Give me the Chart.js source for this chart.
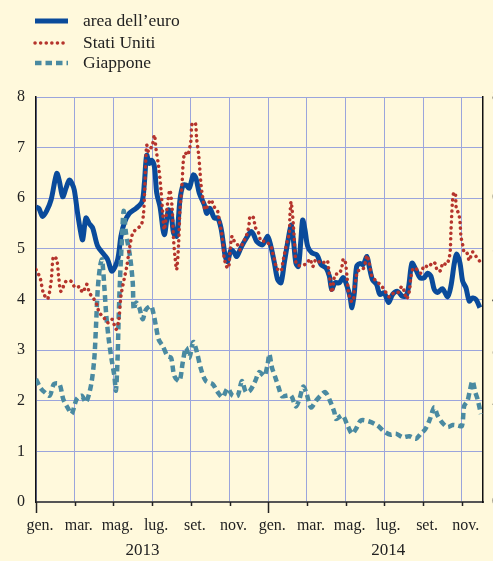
<!DOCTYPE html>
<html lang="it">
<head>
  <meta charset="UTF-8" />
  <title>Volatilità – area dell'euro, Stati Uniti, Giappone</title>
  <script src="https://cdn.jsdelivr.net/npm/chart.js"></script>
  <style>
    body {
      margin: 0;
      background: #fff9dc;
    }
    canvas {
      display: block;
      background: #fff9dc;
    }
  </style>
</head>
<body>
  <canvas id="volChart" width="493" height="561"></canvas>

  <script>
    // months since gen. 2013 on the x axis
    const monthLabels = ['gen.', 'mar.', 'mag.', 'lug.', 'set.', 'nov.',
                         'gen.', 'mar.', 'mag.', 'lug.', 'set.', 'nov.'];
    const years = ['2013', '2014'];
    const yTicks = [0, 1, 2, 3, 4, 5, 6, 7, 8];

    const euroMonths = [0, 0.15, 0.34, 0.55, 0.78, 1.07, 1.2, 1.38, 1.55, 1.72, 1.85, 1.98, 2.15, 2.3, 2.41, 2.58, 2.75, 2.93,
      3.19, 3.53, 3.7, 3.93, 4.22, 4.39, 4.56, 4.82, 5.17, 5.48, 5.6, 5.72, 5.86, 5.98, 6.12, 6.24, 6.41, 6.63, 6.84,
      6.98, 7.11, 7.27, 7.44, 7.6, 7.75, 7.92, 8.13, 8.27, 8.44, 8.7, 8.82, 8.99, 9.21, 9.39, 9.56, 9.68, 9.78, 9.9,
      10.08, 10.25, 10.37, 10.59, 10.82, 11.11, 11.25, 11.4, 11.71, 11.97, 12.14, 12.32, 12.49, 12.66, 12.83, 13.0,
      13.18, 13.3, 13.43, 13.56, 13.69, 13.78, 13.9, 14.04, 14.26, 14.52, 14.73, 14.99, 15.16, 15.28, 15.45, 15.67,
      15.88, 16.1, 16.22, 16.33, 16.45, 16.57, 16.74, 16.91, 17.1, 17.22, 17.39, 17.6, 17.77, 17.99, 18.22, 18.43,
      18.69, 18.91, 19.12, 19.26, 19.43, 19.63, 19.84, 20.06, 20.24, 20.41, 20.58, 20.75, 21.01, 21.27, 21.44, 21.62,
      21.74, 21.91, 22.05, 22.22, 22.39, 22.56, 22.74, 22.94];
    const euroValues = [5.83, 5.8, 5.64, 5.75, 5.97, 6.49, 6.35, 6.03, 6.2, 6.36, 6.3, 6.16, 5.7, 5.35, 5.18, 5.61, 5.5, 5.41,
      5.05, 4.88, 4.79, 4.56, 4.79, 5.25, 5.51, 5.7, 5.8, 5.93, 6.3, 6.85, 6.69, 6.75, 6.62, 6.1, 5.83, 5.28, 5.77,
      5.7, 5.31, 5.25, 5.97, 6.26, 6.26, 6.2, 6.46, 6.39, 6.1, 5.87, 5.7, 5.8, 5.61, 5.61, 5.41, 5.11, 4.85, 4.75,
      4.98, 4.92, 4.85, 5.02, 5.18, 5.34, 5.28, 5.15, 5.08, 5.25, 5.05, 4.72, 4.39, 4.33, 4.72, 5.11,
      5.47, 5.18, 4.72, 4.65, 5.18, 5.57, 5.38, 5.05, 4.92, 4.88, 4.69, 4.62, 4.46, 4.2, 4.33, 4.33,
      4.43, 4.23, 4.07, 3.84, 4.13, 4.65, 4.71, 4.69, 4.85, 4.65, 4.39, 4.3, 4.1, 4.13, 3.94, 4.1,
      4.16, 4.07, 4.07, 4.26, 4.72, 4.59, 4.43, 4.43, 4.52, 4.46, 4.2, 4.14, 4.21, 4.05, 4.26, 4.72,
      4.9, 4.72, 4.36, 4.23, 3.97, 4.03, 4.0, 3.84];

    const usaMonths = [0, 0.21, 0.38, 0.6, 0.78, 0.9, 1.07, 1.17, 1.29, 1.55, 1.81, 2.03, 2.24, 2.41, 2.62, 2.76, 2.96,
      3.14, 3.27, 3.48, 3.7, 3.93, 4.13, 4.27, 4.39, 4.56, 4.69, 4.82, 5.0, 5.25, 5.43, 5.55, 5.62, 5.72, 5.82, 6.03,
      6.12, 6.2, 6.34, 6.46, 6.55, 6.63, 6.8, 6.92, 7.03, 7.11, 7.18, 7.27, 7.37, 7.44, 7.55, 7.61, 7.7, 7.84, 8.01,
      8.06, 8.23, 8.3, 8.4, 8.47, 8.53, 8.61, 8.75, 8.92, 9.04, 9.21, 9.39, 9.47, 9.61, 9.68, 9.73, 9.85, 9.95, 10.02,
      10.13, 10.25, 10.42, 10.54, 10.68, 10.82, 10.94, 11.02, 11.07, 11.25, 11.32, 11.51, 11.63, 11.85, 12.14, 12.23,
      12.32, 12.44, 12.66, 12.75, 12.83, 13.0, 13.09, 13.12, 13.18, 13.23, 13.3, 13.35, 13.4, 13.47, 13.69, 13.99,
      14.16, 14.3, 14.47, 14.76, 15.04, 15.12, 15.21, 15.3, 15.45, 15.67, 15.81, 15.88, 15.98, 16.07, 16.15, 16.28,
      16.4, 16.45, 16.53, 16.62, 16.88, 17.02, 17.1, 17.22, 17.36, 17.6, 17.83, 18.05, 18.26, 18.46, 18.69, 18.91,
      19.03, 19.15, 19.29, 19.38, 19.5, 19.67, 19.89, 20.06, 20.29, 20.5, 20.63, 20.75, 20.93, 21.01, 21.22, 21.36,
      21.41, 21.44, 21.48, 21.52, 21.58, 21.67, 21.72, 21.84, 21.91, 21.96, 22.05, 22.13, 22.27, 22.39, 22.56, 22.74,
      22.94];
    const usaValues = [4.59, 4.43, 4.13, 4.01, 4.36, 4.85, 4.79, 4.46, 4.16, 4.36, 4.36, 4.23, 4.25, 4.14, 4.3, 4.13, 4.03,
      3.9, 3.74, 3.66, 3.54, 3.61, 3.41, 3.57, 4.07, 4.41, 4.65, 4.98, 5.31, 5.41, 5.46, 5.67, 6.2, 7.05, 6.92, 7.08,
      7.25, 6.98, 6.62, 6.16, 5.7, 5.38, 5.9, 6.16, 5.83, 5.18, 4.85, 4.59, 5.11, 5.77, 6.3, 6.72, 6.9, 6.85, 7.15,
      7.46, 7.49, 7.18, 6.88, 6.56, 6.26, 6.03, 5.77, 5.9, 5.97, 5.83, 5.74, 5.57, 5.28, 5.05, 4.82, 4.65, 4.62, 4.92,
      5.25, 5.15, 5.08, 4.98, 5.11, 5.21, 5.34, 5.51, 5.65, 5.61, 5.44, 5.31, 5.15, 5.15, 5.05, 4.92,
      4.79, 4.62, 4.56, 4.72, 4.88, 5.18, 5.31, 5.64, 5.93, 5.8, 5.47, 5.18, 4.85, 4.69, 4.67, 4.71,
      4.8, 4.65, 4.79, 4.71, 4.77, 4.62, 4.33, 4.14, 4.49, 4.51, 4.65, 4.8, 4.75, 4.46, 4.14, 3.97,
      3.97, 4.23, 4.39, 4.56, 4.59, 4.73, 4.87, 4.72, 4.46, 4.36, 4.28, 4.16, 4.05, 4.12, 4.13, 4.26,
      4.16, 4.01, 4.16, 4.46, 4.62, 4.6, 4.52, 4.67, 4.64, 4.74, 4.71, 4.56, 4.58, 4.72, 4.69, 4.84,
      4.98, 5.31, 5.64, 5.93, 6.1, 6.11, 5.8, 5.7, 5.54, 5.25, 5.08, 4.93, 4.92, 4.77, 4.94, 4.85,
      4.75];

    const japanMonths = [0, 0.22, 0.47, 0.71, 0.93, 1.21, 1.41, 1.67, 1.84, 2.1, 2.36, 2.58, 2.84, 3.01, 3.1, 3.19,
      3.31, 3.41, 3.53, 3.62, 3.76, 3.93, 4.05, 4.13, 4.22, 4.27, 4.34, 4.44, 4.53, 4.65, 4.86, 5.0, 5.05, 5.17, 5.34,
      5.51, 5.68, 5.94, 6.06, 6.2, 6.34, 6.55, 6.8, 6.98, 7.15, 7.41, 7.58, 7.75, 7.92, 8.13, 8.3, 8.53, 8.78, 9.13,
      9.39, 9.64, 9.9, 10.16, 10.42, 10.64, 10.85, 11.06, 11.33, 11.54, 11.8, 11.97, 12.06, 12.19, 12.37, 12.54,
      12.71, 12.92, 13.18, 13.43, 13.61, 13.81, 13.99, 14.21, 14.47, 14.73, 14.95, 15.19, 15.42, 15.5, 15.84, 16.1,
      16.33, 16.53, 16.79, 17.22, 17.65, 18.0, 18.34, 18.6, 18.95, 19.29, 19.63, 19.89, 20.12, 20.36, 20.58, 20.75,
      21.01, 21.27, 21.53, 21.79, 22.01, 22.13, 22.3, 22.43, 22.56, 22.7, 22.82, 22.99];
    const japanValues = [2.43, 2.26, 2.16, 2.1, 2.33, 2.33, 2.03, 1.84, 1.74, 2.03, 2.1, 1.97, 2.3, 2.82, 3.47, 4.2,
      4.65, 4.79, 4.26, 3.74, 3.21, 2.76, 2.49, 2.2, 2.88, 3.61, 4.39, 5.18, 5.75, 5.31, 4.85, 4.33, 3.8, 3.94, 3.84,
      3.61, 3.8, 3.87, 3.74, 3.47, 3.21, 3.08, 2.88, 2.85, 2.49, 2.39, 2.75, 3.05, 2.85, 3.16, 2.98, 2.62, 2.39, 2.33,
      2.17, 2.07, 2.24, 2.1, 2.1, 2.39, 2.17, 2.2, 2.39, 2.57, 2.49, 2.72, 2.92, 2.66, 2.46, 2.26,
      2.09, 2.1, 2.1, 1.89, 2.03, 2.28, 2.13, 1.87, 2.0, 2.11, 2.17, 2.0, 1.77, 1.64, 1.71, 1.51,
      1.35, 1.44, 1.61, 1.59, 1.51, 1.39, 1.33, 1.35, 1.28, 1.3, 1.25, 1.35, 1.44, 1.64, 1.87, 1.71,
      1.56, 1.48, 1.52, 1.51, 1.5, 1.9, 2.0, 2.22, 2.39, 2.17, 2.03, 1.74];

    const toPoints = (xs, ys) => xs.map((x, i) => ({ x: x, y: ys[i] }));

    const serif = "'Liberation Serif', 'DejaVu Serif', serif";
    const gridColor = '#9ba5dc';

    // legend, tick marks under the x axis and the year labels
    const extrasPlugin = {
      id: 'extras',
      afterDraw: chart => {
        const ctx = chart.ctx;
        const x = chart.scales.x;
        const area = chart.chartArea;
        ctx.save();

        // tick marks
        ctx.strokeStyle = '#222';
        ctx.lineWidth = 1.5;
        x.ticks.forEach(t => {
          const px = Math.round(x.getPixelForValue(t.value)) + 0.5;
          const len = (t.value % 12 === 0) ? 11 : 4;
          ctx.beginPath();
          ctx.moveTo(px, area.bottom);
          ctx.lineTo(px, area.bottom + len);
          ctx.stroke();
        });

        // years
        ctx.fillStyle = '#222';
        ctx.font = '17px ' + serif;
        ctx.textAlign = 'center';
        ctx.textBaseline = 'middle';
        ctx.fillText(years[0], x.getPixelForValue(5.5), 551);
        ctx.fillText(years[1], x.getPixelForValue(18.2), 551);

        // legend
        const items = [
          { label: "area dell\u2019euro", ds: chart.data.datasets[0], y: 21 },
          { label: 'Stati Uniti', ds: chart.data.datasets[1], y: 43 },
          { label: 'Giappone', ds: chart.data.datasets[2], y: 63 }
        ];
        ctx.font = '17.5px ' + serif;
        ctx.textAlign = 'left';
        items.forEach(it => {
          ctx.strokeStyle = it.ds.borderColor;
          ctx.lineWidth = it.ds.borderWidth;
          ctx.lineCap = it.ds.borderCapStyle || 'butt';
          ctx.setLineDash(it.ds.borderDash || []);
          ctx.beginPath();
          ctx.moveTo(35, it.y);
          ctx.lineTo(68, it.y);
          ctx.stroke();
          ctx.setLineDash([]);
          ctx.fillStyle = '#222';
          ctx.fillText(it.label, 83, it.y);
        });
        ctx.restore();
      }
    };

    const ctx = document.getElementById('volChart').getContext('2d');

    new Chart(ctx, {
      type: 'line',
      data: {
        datasets: [
          {
            label: "area dell'euro",
            data: toPoints(euroMonths, euroValues),
            borderColor: '#0a4b9b',
            borderWidth: 5,
            pointRadius: 0,
            tension: 0.3,
            order: 2
          },
          {
            label: 'Stati Uniti',
            data: toPoints(usaMonths, usaValues),
            borderColor: '#b5342c',
            borderWidth: 3.5,
            borderDash: [0.1, 5.5],
            borderCapStyle: 'round',
            pointRadius: 0,
            tension: 0.3,
            order: 0
          },
          {
            label: 'Giappone',
            data: toPoints(japanMonths, japanValues),
            borderColor: '#4a8aa1',
            borderWidth: 4.5,
            borderDash: [6.5, 4],
            pointRadius: 0,
            tension: 0.3,
            order: 1
          }
        ]
      },
      options: {
        responsive: false,
        animation: false,
        layout: { padding: { top: 97, left: 0, right: 0, bottom: 0 } },
        plugins: {
          legend: { display: false },
          tooltip: { enabled: false }
        },
        scales: {
          x: {
            type: 'linear',
            min: 0,
            max: 23.1,
            afterBuildTicks: scale => {
              scale.ticks = monthLabels.map((m, i) => ({ value: i * 2 }));
            },
            afterFit: scale => { scale.height = 59; },
            ticks: {
              autoSkip: false,
              maxRotation: 0,
              padding: 14,
              labelOffset: 4,
              color: '#222',
              font: { family: serif, size: 16 },
              callback: (v) => monthLabels[Math.round(v / 2)]
            },
            grid: { color: gridColor, lineWidth: 1, drawTicks: false },
            border: { color: '#555', width: 2 }
          },
          y: {
            min: 0,
            max: 8,
            afterBuildTicks: scale => {
              scale.ticks = yTicks.map(v => ({ value: v }));
            },
            afterFit: scale => { scale.width = 36; },
            ticks: {
              padding: 11,
              color: '#222',
              font: { family: serif, size: 16 }
            },
            grid: { color: gridColor, lineWidth: 1, drawTicks: false },
            border: { color: '#111', width: 1.5 }
          },
          y2: {
            position: 'right',
            min: 0,
            max: 8,
            afterBuildTicks: scale => {
              scale.ticks = yTicks.map(v => ({ value: v }));
            },
            afterFit: scale => { scale.width = 10; },
            ticks: {
              padding: 9,
              color: '#222',
              font: { family: serif, size: 16 }
            },
            grid: { drawOnChartArea: false, drawTicks: false },
            border: { color: '#111', width: 1.5 }
          }
        }
      },
      plugins: [extrasPlugin]
    });
  </script>
</body>
</html>
